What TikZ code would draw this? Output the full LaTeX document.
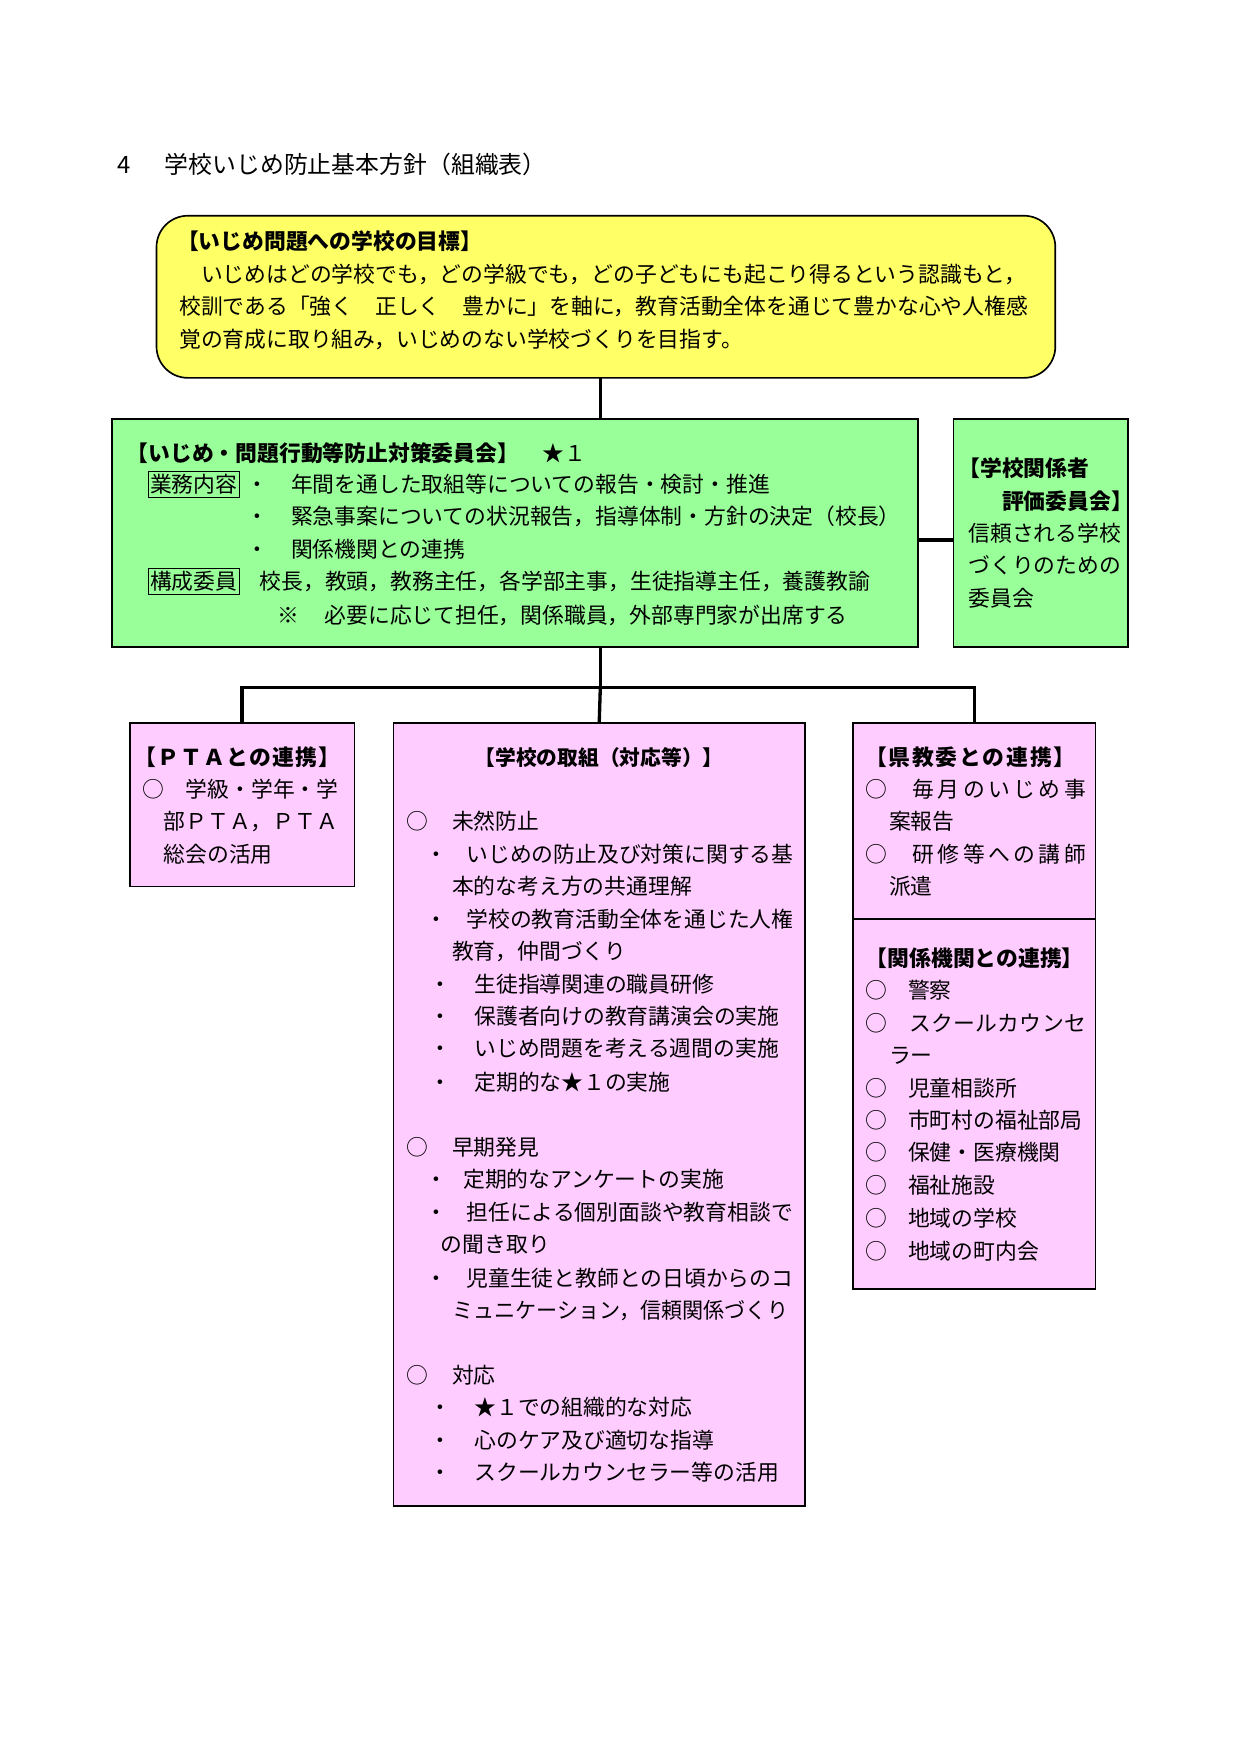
\documentclass[tikz,border=0pt]{standalone}
\usepackage{fontspec}
\setmainfont{Noto Sans CJK JP}
\newdimen\pxu \pxu=0.18929mm
\newcommand\fs{\fontsize{10.5pt}{15pt}\selectfont}
\newcommand\fh{\fontsize{10.5pt}{15pt}\selectfont\bfseries}
\newcommand\fhs{\fontsize{10pt}{15pt}\selectfont\bfseries}
\newcommand\sprA[1]{\ifx#1\relax\else#1\expandafter\sprB\fi}
\newcommand\sprB[1]{\ifx#1\relax\else\hfill#1\expandafter\sprB\fi}
\newcommand\spr[2]{\makebox[#1\pxu][s]{\sprA#2\relax}}
\definecolor{cyel}{HTML}{FFFF66}
\definecolor{cgrn}{HTML}{99FF99}
\definecolor{cpnk}{HTML}{FFCCFF}
\tikzset{
  boxs/.style={draw=black, line width=0.8pt, inner sep=0pt, outer sep=0pt},
  lbl/.style={anchor=west, inner sep=0pt, font=\fs, text height=9.24pt, text depth=1.26pt},
  hd/.style={inner sep=0pt, font=\fh, text height=9.24pt, text depth=1.26pt},
  hdw/.style={hd, anchor=west},
  tag/.style={anchor=west, draw=black, line width=0.5pt, inner sep=1pt, font=\fs, text height=9.24pt, text depth=1.26pt},
  conn/.style={draw=black, line width=1.6pt},
}
\newcommand\bx[6]{\node[boxs,fill=#6,minimum width={(#4-#2)*0.18929mm},minimum height={(#5-#3)*0.18929mm}] (#1) at ({(#2+#4)/2},{(#3+#5)/2}) {};}
\begin{document}
\begin{tikzpicture}[x=0.18929mm, y=-0.18929mm]
\useasboundingbox (0,0) rectangle (1110,1569);
% title
\node[lbl, font=\fontsize{11.5pt}{15pt}\selectfont] (tnum) at (105,148) {4};
\node[lbl, font=\fontsize{11.5pt}{15pt}\selectfont] (ttl) at (147,148) {学校いじめ防止基本方針（組織表）};
% yellow goal box
\node[boxs, fill=cyel, rounded corners=5.3mm, minimum width={804*0.18929mm}, minimum height={145*0.18929mm}] (yel) at (542,265.5) {};
\node[hdw] (yh) at (158,216) {【いじめ問題への学校の目標】};
\node[lbl] (y1) at (160,245) {　いじめはどの学校でも，どの学級でも，どの子どもにも起こり得るという認識もと，};
\node[lbl] (y2) at (160,274) {校訓である「強く　正しく　豊かに」を軸に，教育活動全体を通じて豊かな心や人権感};
\node[lbl] (y3) at (160,303) {覚の育成に取り組み，いじめのない学校づくりを目指す。};
% committee box
\bx{com}{100}{375}{821}{579}{cgrn}
\node[hdw] (ch) at (113,405) {【いじめ・問題行動等防止対策委員会】};
\node[lbl] (cs) at (485,405) {★１};
\node[tag] (tg1) at (132,433) {業務内容};
\node[lbl] (cb1) at (220,433) {・};
\node[lbl] (c1) at (260,433) {年間を通した取組等についての報告・検討・推進};
\node[lbl] (cb2) at (220,462) {・};
\node[lbl] (c2) at (260,462) {緊急事案についての状況報告，指導体制・方針の決定（校長）};
\node[lbl] (cb3) at (220,491) {・};
\node[lbl] (c3) at (260,491) {関係機関との連携};
\node[tag] (tg2) at (132,520) {構成委員};
\node[lbl] (c4) at (232,520) {校長，教頭，教務主任，各学部主事，生徒指導主任，養護教諭};
\node[lbl] (cm) at (248,550) {※};
\node[lbl] (c5) at (290,550) {必要に応じて担任，関係職員，外部専門家が出席する};
% evaluation committee
\bx{hyo}{853}{375}{1009}{579}{cgrn}
\node[hdw] (h1) at (857,419) {【学校関係者};
\node[hdw] (h2) at (896,448) {評価委員会】};
\node[lbl] (h3) at (866,477) {信頼される学校};
\node[lbl] (h4) at (866,506) {づくりのための};
\node[lbl] (h5) at (866,535) {委員会};
% PTA
\bx{pta}{116}{647}{317}{793}{cpnk}
\node[hd] (ph) at (212,677) {\spr{184}{【ＰＴＡとの連携】}};
\node[lbl] (p1) at (127,706) {○　学級・学年・学};
\node[lbl] (p2) at (146,735) {部ＰＴＡ，ＰＴＡ};
\node[lbl] (p3) at (146,764) {総会の活用};
% school measures
\bx{mid}{352}{647}{720}{1347}{cpnk}
\node[hd, font=\fhs] (mh) at (536,677) {【学校の取組（対応等）】};
\node[lbl] (mo1) at (363,735) {○};
\node[lbl] (m1) at (404,735) {未然防止};
\node[lbl] (mb1) at (380,764) {・};
\node[lbl] (m2) at (417,764) {いじめの防止及び対策に関する基};
\node[lbl] (m3) at (404,793) {本的な考え方の共通理解};
\node[lbl] (mb2) at (380,822) {・};
\node[lbl] (m4) at (417,822) {学校の教育活動全体を通じた人権};
\node[lbl] (m5) at (404,851) {教育，仲間づくり};
\node[lbl] (mb3) at (384,880) {・};
\node[lbl] (m6) at (424,880) {生徒指導関連の職員研修};
\node[lbl] (mb4) at (384,909) {・};
\node[lbl] (m7) at (424,909) {保護者向けの教育講演会の実施};
\node[lbl] (mb5) at (384,938) {・};
\node[lbl] (m8) at (424,938) {いじめ問題を考える週間の実施};
\node[lbl] (mb6) at (384,968) {・};
\node[lbl] (m9) at (424,968) {定期的な★１の実施};
\node[lbl] (mo2) at (363,1026) {○};
\node[lbl] (m10) at (404,1026) {早期発見};
\node[lbl] (mb7) at (380,1055) {・};
\node[lbl] (m11) at (414,1055) {定期的なアンケートの実施};
\node[lbl] (mb8) at (380,1084) {・};
\node[lbl] (m12) at (417,1084) {担任による個別面談や教育相談で};
\node[lbl] (m13) at (394,1113) {の聞き取り};
\node[lbl] (mb9) at (380,1143) {・};
\node[lbl] (m14) at (417,1143) {児童生徒と教師との日頃からのコ};
\node[lbl] (m15) at (404,1172) {\scalebox{0.968}[1]{ミュニケーション，信頼関係づくり}};
\node[lbl] (mo3) at (363,1230) {○};
\node[lbl] (m16) at (404,1230) {対応};
\node[lbl] (mb10) at (384,1259) {・};
\node[lbl] (m17) at (424,1259) {★１での組織的な対応};
\node[lbl] (mb11) at (384,1288) {・};
\node[lbl] (m18) at (424,1288) {心のケア及び適切な指導};
\node[lbl] (mb12) at (384,1317) {・};
\node[lbl] (m19) at (424,1317) {スクールカウンセラー等の活用};
% prefectural board
\bx{kyo}{763}{647}{980}{822}{cpnk}
\node[hd] (kh) at (868,677) {\spr{188}{【県教委との連携】}};
\node[lbl] (ko1) at (774,706) {○};
\node[lbl] (k1) at (816,706) {\spr{155}{毎月のいじめ事}};
\node[lbl] (k2) at (795,735) {案報告};
\node[lbl] (ko2) at (774,764) {○};
\node[lbl] (k3) at (816,764) {\spr{155}{研修等への講師}};
\node[lbl] (k4) at (795,793) {派遣};
% related agencies
\bx{kan}{763}{822}{980}{1153}{cpnk}
\node[hd] (ah) at (872,857) {【関係機関との連携】};
\node[lbl] (ao1) at (774,886) {○};
\node[lbl] (a1) at (812,886) {警察};
\node[lbl] (ao2) at (774,915) {○};
\node[lbl] (a2) at (813,915) {\spr{158}{スクールカウンセ}};
\node[lbl] (a3) at (795,944) {ラー};
\node[lbl] (ao3) at (774,973) {○};
\node[lbl] (a4) at (812,973) {児童相談所};
\node[lbl] (ao4) at (774,1002) {○};
\node[lbl] (a5) at (812,1002) {市町村の福祉部局};
\node[lbl] (ao5) at (774,1031) {○};
\node[lbl] (a6) at (812,1031) {保健・医療機関};
\node[lbl] (ao6) at (774,1060) {○};
\node[lbl] (a7) at (812,1060) {福祉施設};
\node[lbl] (ao7) at (774,1090) {○};
\node[lbl] (a8) at (812,1090) {地域の学校};
\node[lbl] (ao8) at (774,1119) {○};
\node[lbl] (a9) at (812,1119) {地域の町内会};
% connectors
\coordinate (vx) at (537,615);
\coordinate (ry) at (837,483);
\draw[conn] (yel.south -| vx) -- (com.north -| vx);
\draw[conn] (com.east |- ry) -- (hyo.west |- ry);
\draw[conn] (com.south -| vx) -- (vx);
\draw[conn] (pta.north) -- (pta.north |- vx) -- (kyo.north |- vx) -- (kyo.north);
\draw[conn] (vx) -- (mid.north);
\end{tikzpicture}
\end{document}
